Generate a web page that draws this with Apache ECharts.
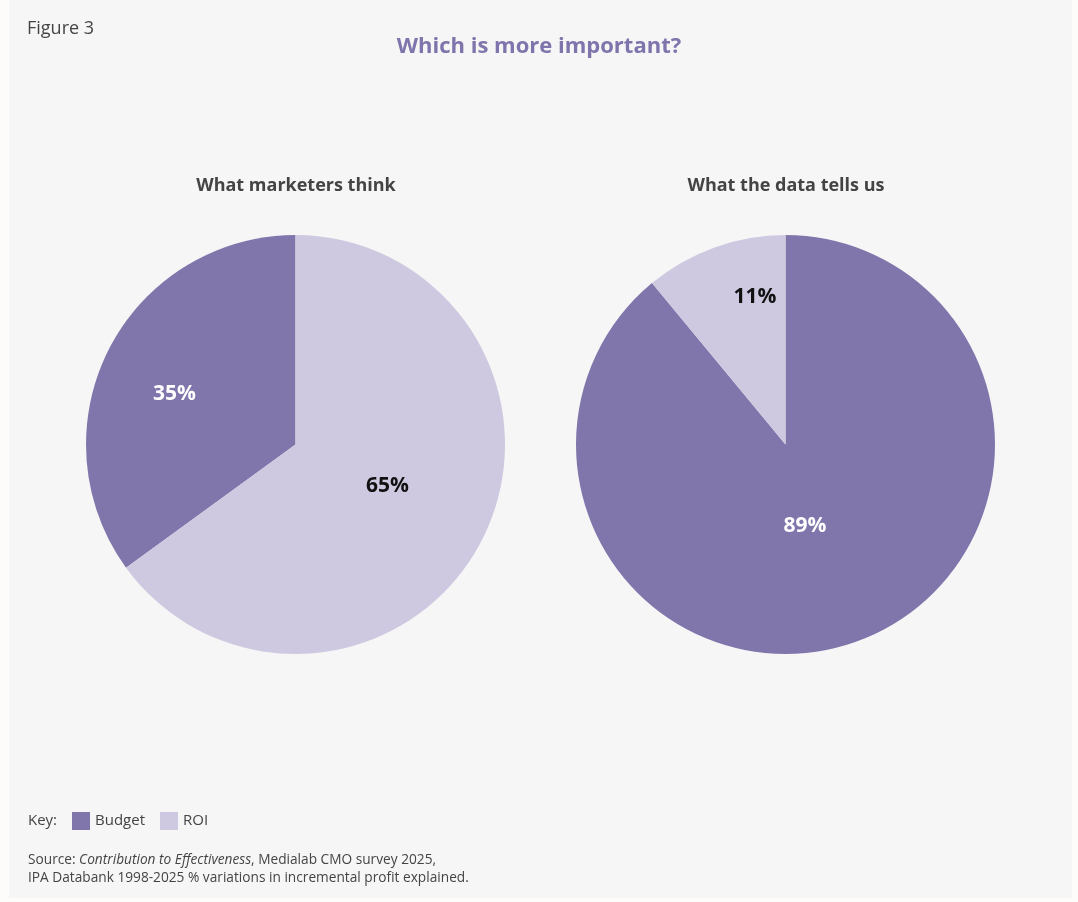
<!DOCTYPE html>
<html>
<head>
<meta charset="utf-8">
<script src="https://cdn.jsdelivr.net/npm/echarts@6/dist/echarts.min.js"></script>
<style>
  html, body { margin: 0; padding: 0; background: #fefcfa; }
  #chart { width: 1078px; height: 902px; }
</style>
</head>
<body>
<div id="chart"></div>
<script>
var categories = ['Budget', 'ROI'];
var marketersValues = [35, 65];
var dataValues = [89, 11];
var colors = ['#8076ac', '#cec9e0'];
var labelColors = ['#ffffff', '#111111'];
var fontFamily = '"Open Sans", Lato, sans-serif';

var dom = document.getElementById('chart');
var myChart = echarts.init(dom);

function pieData(values) {
    return values.map(function (v, i) {
        return {
            name: categories[i],
            value: v,
            itemStyle: { color: colors[i] },
            label: { color: labelColors[i] }
        };
    });
}

// nudge labels a little toward where the original puts them
var leftShift = [[-25, -2], [-4, -7]];
var rightShift = [[-17, -20], [6, -46]];

var option = {
    backgroundColor: '#fefcfa',
    animation: false,
    title: [{
        text: 'Figure 3',
        left: 22, top: 15,
        textStyle: { fontFamily: fontFamily, fontWeight: 'normal', fontSize: 18, color: '#444444' }
    }, {
        text: 'Which is more important?',
        left: 'center', top: 31,
        textStyle: { fontFamily: fontFamily, fontWeight: 'bold', fontSize: 22, color: '#7f74ab' }
    }, {
        text: 'What marketers think',
        left: 291, top: 172, textAlign: 'center',
        textStyle: { fontFamily: fontFamily, fontWeight: 'bold', fontSize: 18, color: '#444444' }
    }, {
        text: 'What the data tells us',
        left: 781, top: 172, textAlign: 'center',
        textStyle: { fontFamily: fontFamily, fontWeight: 'bold', fontSize: 18, color: '#444444' }
    }],
    legend: {
        data: categories,
        left: 72, top: 812,
        padding: 0,
        icon: 'rect',
        itemWidth: 18, itemHeight: 18,
        itemGap: 15,
        selectedMode: false,
        textStyle: { fontFamily: fontFamily, fontSize: 15, color: '#444444' }
    },
    graphic: [{
        type: 'rect',
        z: -10,
        shape: { x: 9, y: 0, width: 1063, height: 898 },
        style: { fill: '#f6f6f6' }
    }, {
        type: 'text',
        left: 28, top: 813,
        style: { text: 'Key:', font: '15px ' + fontFamily, fill: '#444444' }
    }, {
        type: 'text',
        left: 28, top: 853,
        style: {
            text: '{n|Source: }{i|Contribution to Effectiveness}{n|, Medialab CMO survey 2025,}\n{n|IPA Databank 1998-2025 % variations in incremental profit explained.}',
            rich: {
                n: { font: '13.7px ' + fontFamily, fill: '#444444', lineHeight: 18 },
                i: { font: 'italic 13.7px ' + fontFamily, fill: '#444444', lineHeight: 18 }
            }
        }
    }],
    series: [{
        name: 'What marketers think',
        type: 'pie',
        center: [295.5, 444.5],
        radius: 209.5,
        clockwise: false,
        startAngle: 90,
        silent: true,
        label: {
            show: true, position: 'inside',
            formatter: '{c}%',
            fontFamily: fontFamily, fontWeight: 'bold', fontSize: 21
        },
        labelLayout: function (p) {
            return { dx: leftShift[p.dataIndex][0], dy: leftShift[p.dataIndex][1] };
        },
        labelLine: { show: false },
        data: pieData(marketersValues)
    }, {
        name: 'What the data tells us',
        type: 'pie',
        center: [785.5, 444.5],
        radius: 209.5,
        clockwise: true,
        startAngle: 90,
        silent: true,
        label: {
            show: true, position: 'inside',
            formatter: '{c}%',
            fontFamily: fontFamily, fontWeight: 'bold', fontSize: 21
        },
        labelLayout: function (p) {
            return { dx: rightShift[p.dataIndex][0], dy: rightShift[p.dataIndex][1] };
        },
        labelLine: { show: false },
        data: pieData(dataValues)
    }]
};

myChart.setOption(option, true);
</script>
</body>
</html>
